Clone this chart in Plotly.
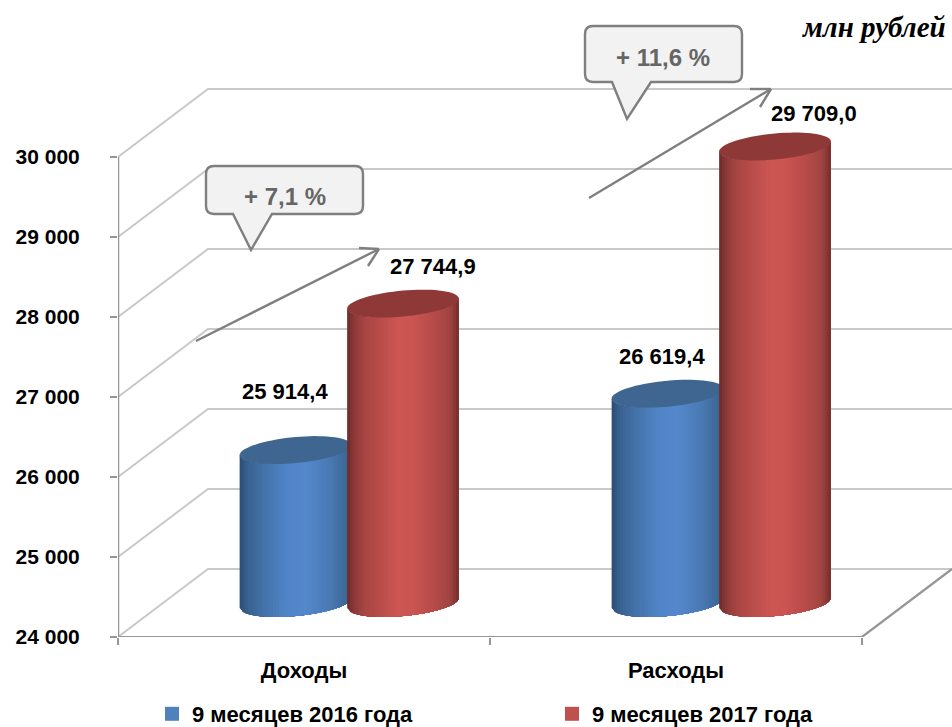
import math
import plotly.graph_objects as go

# ---------- data ----------
CATEGORIES = ["Доходы", "Расходы"]
SERIES_NAMES = ["9 месяцев 2016 года", "9 месяцев 2017 года"]
VALUES_2016 = [25914.4, 26619.4]
VALUES_2017 = [27744.9, 29709.0]
LABELS_2016 = ["25 914,4", "26 619,4"]
LABELS_2017 = ["27 744,9", "29 709,0"]
Y_TICKS = [24000, 25000, 26000, 27000, 28000, 29000, 30000]
Y_TICK_TEXT = ["24 000", "25 000", "26 000", "27 000", "28 000", "29 000", "30 000"]
CALLOUTS = ["+ 7,1 %", "+ 11,6 %"]
UNIT = "млн рублей"

# ---------- geometry / style ----------
W, H = 952, 727
L, B = 118, 637
PX_X = 372.0          # px per category
PX_Y = 0.08           # px per value unit
X0 = -0.5
X1 = X0 + (W - L) / PX_X
Y0 = 24000
Y1 = Y0 + B / PX_Y
DX = 90 / PX_X        # depth of the 3-D box, x units
DY = 68 / PX_Y        # depth of the 3-D box, value units
BAR_A = 55.8 / PX_X   # cylinder half width
BAR_B = 13 / PX_Y     # ellipse half height
BAR_K = 5 / PX_Y      # ellipse tilt
FONT = "Liberation Sans"
GRID = "#c9c9c9"
AXIS = "#969696"
CALL = "#7f7f7f"

def fx(px):
    return X0 + (px - L) / PX_X

def fy(py):
    return Y0 + (B - py) / PX_Y

BLUE_STOPS = [(0, "#2b4b74"), (.07, "#38618f"), (.22, "#4472a9"), (.42, "#5085c8"),
              (.6, "#5487cb"), (.8, "#4a7ab5"), (.94, "#3e6a9a"), (1, "#38608c")]
RED_STOPS = [(0, "#6c2a2a"), (.06, "#8a3938"), (.16, "#a84644"), (.32, "#bb4e4b"), (.46, "#cd5653"),
             (.58, "#cb5552"), (.76, "#b84c4a"), (.92, "#a04442"), (1, "#762d2c")]
BLUE_TOP, RED_TOP = "#3e6690", "#8e3938"
N_STRIPS = 40

def mix(stops, t):
    for (a, ca), (b, cb) in zip(stops, stops[1:]):
        if t <= b:
            f = (t - a) / (b - a)
            rgb = [round(int(ca[i:i + 2], 16) * (1 - f) + int(cb[i:i + 2], 16) * f) for i in (1, 3, 5)]
            return "rgb(%d,%d,%d)" % tuple(rgb)
    return stops[-1][1]

fig = go.Figure()

def line(xs, ys, color, width):
    fig.add_trace(go.Scatter(x=xs, y=ys, mode="lines", line=dict(color=color, width=width),
                             showlegend=False, hoverinfo="skip"))

# walls
for v in Y_TICKS:
    line([X0, X0 + DX, X1], [v, v + DY, v + DY], GRID, 2)
# floor front edge / axes
line([X1, X0 + 2, X0], [Y0 + DY, Y0, Y0], AXIS, 2.2)
line([X0, X0], [Y0, Y_TICKS[-1]], AXIS, 2.5)

def cylinder(xc, value, stops, top):
    yc_top = value + DY / 2 - 0.2 / PX_Y
    yc_bot = Y0 + DY / 2
    def edge(u, yc):
        return yc - BAR_B * math.sqrt(max(0, 1 - u * u)) + BAR_K * u
    for i in range(N_STRIPS):
        # every strip runs to the right edge and the next one paints over it
        u0 = -1 + 2 * i / N_STRIPS
        us = [u0 + (1 - u0) * j / 30 for j in range(31)]
        xs = [xc + BAR_A * u for u in us] + [xc + BAR_A * u for u in reversed(us)]
        ys = [edge(u, yc_bot) for u in us] + [edge(u, yc_top) for u in reversed(us)]
        col = mix(stops, (i + .5) / N_STRIPS)
        fig.add_trace(go.Scatter(x=xs, y=ys, mode="none", fill="toself", fillcolor=col,
                                 showlegend=False, hoverinfo="skip"))
    n = 72
    xs, ys = [], []
    for j in range(n + 1):
        t = 2 * math.pi * j / n
        xs.append(xc + BAR_A * math.cos(t))
        ys.append(yc_top + BAR_B * math.sin(t) + BAR_K * math.cos(t))
    fig.add_trace(go.Scatter(x=xs, y=ys, mode="none", fill="toself", fillcolor=top,
                             showlegend=False, hoverinfo="skip"))

OFF_BLUE, OFF_RED = -0.144, 0.145
for i in range(len(CATEGORIES)):
    cylinder(i + DX / 2 + OFF_BLUE, VALUES_2016[i], BLUE_STOPS, BLUE_TOP)
    cylinder(i + DX / 2 + OFF_RED, VALUES_2017[i], RED_STOPS, RED_TOP)

# legend entries
for name, col in zip(SERIES_NAMES, ["#4f81bd", "#c0504d"]):
    fig.add_trace(go.Scatter(x=[None], y=[None], mode="markers", name="<b>%s</b>" % name,
                             marker=dict(symbol="square", size=14, color=col)))

# value labels
label_pos = [(285, 391, LABELS_2016[0]), (433, 266, LABELS_2017[0]),
             (662, 356, LABELS_2016[1]), (814, 113, LABELS_2017[1])]
ann = []
for px, py, txt in label_pos:
    ann.append(dict(x=fx(px), y=fy(py), text="<b>%s</b>" % txt, showarrow=False,
                    font=dict(family=FONT, size=22, color="#000000")))

# callouts
def callout(x0, x1, y0, y1, p0, p1, tip, r=8):
    seq = [("M", x0 + r, y0), ("L", x1 - r, y0), ("Q", x1, y0, x1, y0 + r), ("L", x1, y1 - r),
           ("Q", x1, y1, x1 - r, y1), ("L", p1, y1), ("L", tip[0], tip[1]), ("L", p0, y1),
           ("L", x0 + r, y1), ("Q", x0, y1, x0, y1 - r), ("L", x0, y0 + r), ("Q", x0, y0, x0 + r, y0)]
    parts = []
    for s in seq:
        c = s[1:]
        pts = " ".join("%.5f,%.3f" % (fx(c[k]), fy(c[k + 1])) for k in range(0, len(c), 2))
        parts.append(s[0] + " " + pts)
    return dict(type="path", path=" ".join(parts) + " Z", xref="x", yref="y", fillcolor="#f2f2f2",
                line=dict(color=CALL, width=2.4), layer="above")

def seg(a, b):
    return dict(type="line", x0=fx(a[0]), y0=fy(a[1]), x1=fx(b[0]), y1=fy(b[1]), xref="x", yref="y",
                line=dict(color=CALL, width=2.4), layer="above")

shapes = [
    seg((196, 341), (379, 249)), seg((359, 248), (379, 249)), seg((368, 266), (379, 249)),
    seg((589, 198), (771, 89)), seg((750, 89), (771, 89)), seg((760, 107), (771, 89)),
    callout(206, 363, 166, 214, 233, 272, (251, 250)),
    callout(585, 742, 26, 82, 612, 651, (627, 119)),
]
for (px, py), txt in zip([(285, 196), (663, 57)], CALLOUTS):
    ann.append(dict(x=fx(px), y=fy(py), text="<b>%s</b>" % txt, showarrow=False,
                    font=dict(family=FONT, size=24, color="#666666")))

ann.append(dict(x=fx(948), y=fy(27), xanchor="right", text="<b><i>%s</i></b>" % UNIT, showarrow=False,
                font=dict(family="Liberation Serif", size=29, color="#000000")))

fig.update_layout(
    width=W, height=H, autosize=False,
    margin=dict(l=L, r=0, t=0, b=H - B, pad=0),
    paper_bgcolor="white", plot_bgcolor="white",
    shapes=shapes, annotations=ann,
    hovermode=False,
    font=dict(family=FONT, size=21, color="#000000"),
    xaxis=dict(range=[X0, X1], showgrid=False, zeroline=False, showline=False,
               tickmode="array", tickvals=[0, 1], ticktext=["<b>%s</b>" % c for c in CATEGORIES],
               ticks="", ticklabelstandoff=18,
               minor=dict(tickmode="array", tickvals=[-0.5, 0.5, 1.5], ticks="outside", ticklen=7,
                          tickwidth=2, tickcolor=AXIS),
               tickfont=dict(family=FONT, size=22, color="#000000")),
    yaxis=dict(range=[Y0, Y1], showgrid=False, zeroline=False, showline=False,
               tickmode="array", tickvals=Y_TICKS, ticktext=["<b>%s</b>" % t for t in Y_TICK_TEXT],
               ticks="outside", ticklen=7, tickwidth=2, tickcolor=AXIS, ticklabelstandoff=26,
               tickfont=dict(family=FONT, size=21, color="#000000")),
    legend=dict(orientation="h", xref="container", yref="container", x=152 / W, xanchor="left",
                y=13 / H, yanchor="middle",
                entrywidth=355, entrywidthmode="pixels", itemwidth=30, bgcolor="rgba(0,0,0,0)",
                font=dict(family=FONT, size=22, color="#000000"), itemclick=False, itemdoubleclick=False),
)

fig.write_html("out.html", config={"displayModeBar": False},
               post_script="document.body.style.margin='0';document.body.style.overflow='hidden';")
